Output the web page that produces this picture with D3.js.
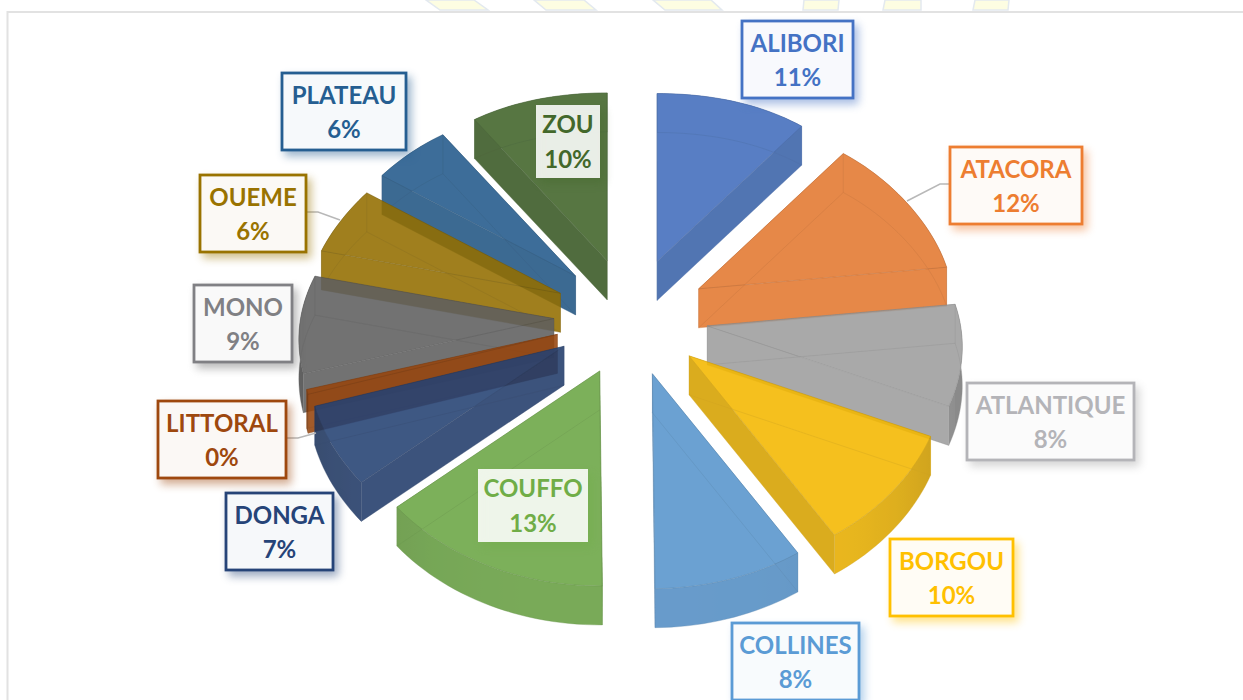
<!DOCTYPE html>
<html>
<head>
<meta charset="utf-8">
<script src="https://cdn.jsdelivr.net/npm/d3@7"></script>
<style>
    html, body { margin: 0; padding: 0; background: #fff; overflow: hidden; }
    svg { display: block; }
    text { font-family: Lato, "Open Sans", sans-serif; font-weight: 700; }
</style>
</head>
<body>
<div id="chart"></div>
<script>
// Chart data
const regions = ["ALIBORI", "ATACORA", "ATLANTIQUE", "BORGOU", "COLLINES", "COUFFO",
    "DONGA", "LITTORAL", "MONO", "OUEME", "PLATEAU", "ZOU"];
const shares = [11, 12.15, 8.5, 9.55, 8.65, 13.61, 6.59, 0.4, 8.25, 5.75, 5.55, 10];
const percentLabels = ["11%", "12%", "8%", "10%", "8%", "13%", "7%", "0%", "9%", "6%", "6%", "10%"];

const sliceColors = ["#4472C4", "#ED7D31", "#A5A5A5", "#FFC000", "#5B9BD5", "#70AD47",
    "#264478", "#9E480E", "#636363", "#997300", "#255E91", "#43682B"];
const textColors = ["#4472C4", "#ED7D31", "#B4B4B8", "#FFC000", "#5B9BD5", "#70AD47",
    "#264478", "#9E480E", "#808084", "#997300", "#255E91", "#43682B"];

// Label boxes: left, top, right, bottom
const labelBoxes = [
    [742, 21, 853, 98], [950, 147, 1082, 224], [967, 383, 1134, 460], [890, 539, 1013, 616],
    [732, 623, 859, 700], [478, 469, 588, 542], [226, 493, 333, 570], [158, 401, 286, 478],
    [194, 285, 292, 362], [200, 175, 306, 252], [282, 73, 406, 150], [536, 105, 600, 178]
];
// Labels sitting on their slice have no border
const plainLabels = ["COUFFO", "ZOU"];

const leaderLines = [
    [[950, 184], [940, 184], [907, 201]],
    [[306, 212], [318, 212], [340, 220]],
    [[286, 438], [298, 438], [316, 433]]
];

// Pale stripes of the page behind the frame
const stripes = [
    [[426, 0], [474, 0], [488, 10], [440, 10]],
    [[534, 0], [584, 0], [596, 10], [546, 10]],
    [[653, 0], [711, 0], [722, 10], [665, 10]],
    [[804, 0], [839, 0], [838, 10], [803, 10]],
    [[885, 0], [921, 0], [921, 10], [883, 10]],
    [[975, 0], [1009, 0], [1008, 10], [973, 10]]
];

const width = 1243, height = 700;

// Pie geometry: centre, how far slices are pulled out, radii and perspective
const cx = 631, cy = 317;
const explodeX = 77, explodeY = 59;
const radiusX = 248, radiusY = 188.6;
const perspective = 0.1228;
const depth = 39;

const svg = d3.select("#chart").append("svg")
    .attr("width", width)
    .attr("height", height);

const defs = svg.append("defs");
const polyLine = d3.line().x(d => d[0]).y(d => d[1]);

// Background stripes and frame
svg.selectAll(".stripe")
    .data(stripes)
    .enter().append("path")
    .attr("class", "stripe")
    .attr("d", d => polyLine(d) + "Z")
    .style("fill", "#fdfde2")
    .style("stroke", "#e3e9ef")
    .style("stroke-width", 1.5);

svg.append("path")
    .attr("d", "M7.5,700V12H1243")
    .style("fill", "none")
    .style("stroke", "#e2e2e2")
    .style("stroke-width", 2);

// Project a point of the pie plane, relative to the slice apex
function rimPoint(angle, apex) {
    const u = Math.sin(angle), v = Math.cos(angle);
    const w = 1 + perspective * v;
    // the rim bulges a little at the sides and upper corners
    const bulgeX = 1 + 0.022 * Math.pow(u, 6);
    const bulgeY = v > 0 ? 1 + 0.02 * Math.pow(Math.sin(2 * angle), 2) : 1;
    return [apex[0] + radiusX * bulgeX * u / w, apex[1] - radiusY * bulgeY * v / w];
}

const slices = d3.pie().sort(null).value(d => d)(shares).map((d, i) => {
    const mid = (d.startAngle + d.endAngle) / 2;
    const apex = [cx + explodeX * Math.sin(mid), cy - explodeY * Math.cos(mid)];
    const steps = Math.max(2, Math.ceil((d.endAngle - d.startAngle) / 0.03));
    const angles = d3.range(steps + 1).map(k => d.startAngle + (d.endAngle - d.startAngle) * k / steps);
    const rim = angles.map(a => rimPoint(a, apex));
    return { id: i, name: regions[i], color: sliceColors[i], mid, apex, rim, angles };
});

const down = p => [p[0], p[1] + depth];

// Flat walls are shaded by the way they face, the arc wall darkens towards the sides
const radialShade = a => 0.5 * Math.max(0, Math.abs(Math.cos(a)) - 0.4) / 0.6;
const arcShade = a => 0.12 + 0.6 * Math.pow(Math.sin(a), 4);

// Back slices first so the front ones overlap them
slices.slice().sort((a, b) => Math.cos(b.mid) - Math.cos(a.mid)).forEach(s => {
    const g = svg.append("g").style("opacity", 0.88);
    const base = d3.color(s.color).darker(0.12);
    const first = s.rim[0];
    const last = s.rim[s.rim.length - 1];
    const edge = d3.color(s.color).darker(0.7).formatHex();

    const topFace = [s.apex, ...s.rim];
    const bottomFace = topFace.map(down);
    const startAngle = s.angles[0];
    const endAngle = s.angles[s.angles.length - 1];

    const wall = (face, fill) => {
        g.append("path")
            .attr("d", polyLine(face) + "Z")
            .style("fill", fill)
            .style("stroke", "none");
    };

    // Shading of the arc wall runs along the rim
    const gradId = "arc-" + s.id;
    const grad = defs.append("linearGradient")
        .attr("id", gradId)
        .attr("gradientUnits", "userSpaceOnUse")
        .attr("x1", first[0]).attr("x2", last[0])
        .attr("y1", 0).attr("y2", 0);
    const span = (last[0] - first[0]) || 1;
    s.rim.forEach((p, k) => {
        grad.append("stop")
            .attr("offset", Math.min(1, Math.max(0, (p[0] - first[0]) / span)))
            .attr("stop-color", base.darker(arcShade(s.angles[k])).formatHex());
    });

    const startWall = [s.apex, first, down(first), down(s.apex)];
    const endWall = [s.apex, last, down(last), down(s.apex)];
    const arcWall = [...s.rim, ...s.rim.slice().reverse().map(down)];
    const rightSide = s.mid < Math.PI;

    // Back facing radial wall, arc wall, then the radial wall that faces us
    wall(rightSide ? startWall : endWall,
        base.darker(radialShade(rightSide ? startAngle : endAngle)).formatHex());
    wall(arcWall, "url(#" + gradId + ")");
    wall(rightSide ? endWall : startWall,
        base.darker(radialShade(rightSide ? endAngle : startAngle)).formatHex());

    g.append("path")
        .attr("d", polyLine(topFace) + "Z")
        .style("fill", base.formatHex())
        .style("stroke", edge)
        .style("stroke-opacity", 0.6)
        .style("stroke-width", 1);

    // Hidden edges seen through the slice
    g.append("path")
        .attr("d", polyLine(bottomFace) + "Z")
        .style("fill", "none")
        .style("stroke", edge)
        .style("stroke-opacity", 0.35)
        .style("stroke-width", 1);

    [s.apex, first, last].forEach(p => {
        g.append("path")
            .attr("d", polyLine([p, down(p)]))
            .style("stroke", edge)
            .style("stroke-opacity", 0.35)
            .style("stroke-width", 1);
    });
});

// Leader lines
svg.selectAll(".leader")
    .data(leaderLines)
    .enter().append("path")
    .attr("class", "leader")
    .attr("d", d => polyLine(d))
    .style("fill", "none")
    .style("stroke", "#b8b8b8")
    .style("stroke-width", 1.5);

// Data labels
const labels = svg.selectAll(".label")
    .data(regions)
    .enter().append("g")
    .attr("class", "label")
    .attr("transform", (d, i) => "translate(" + labelBoxes[i][0] + "," + labelBoxes[i][1] + ")");

labels.append("rect")
    .attr("width", (d, i) => labelBoxes[i][2] - labelBoxes[i][0])
    .attr("height", (d, i) => labelBoxes[i][3] - labelBoxes[i][1])
    .style("fill", (d, i) => plainLabels.includes(d)
        ? "rgba(255,255,255,0.88)"
        : d3.interpolateRgb("#fff", sliceColors[i])(0.04))
    .style("stroke", (d, i) => plainLabels.includes(d) ? "none" : textColors[i])
    .style("stroke-width", 2.8)
    .style("filter", (d, i) => {
        const c = d3.color(sliceColors[i]);
        c.opacity = 0.45;
        return "drop-shadow(4px 5px 4px " + c.formatRgb() + ")";
    });

labels.append("text")
    .attr("x", (d, i) => (labelBoxes[i][2] - labelBoxes[i][0]) / 2)
    .attr("y", (d, i) => plainLabels.includes(d) ? 28 : 31)
    .attr("text-anchor", "middle")
    .style("font-size", "24px")
    .style("fill", (d, i) => textColors[i])
    .text(d => d);

labels.append("text")
    .attr("x", (d, i) => (labelBoxes[i][2] - labelBoxes[i][0]) / 2)
    .attr("y", (d, i) => plainLabels.includes(d) ? 63 : 65)
    .attr("text-anchor", "middle")
    .style("font-size", "24px")
    .style("fill", (d, i) => textColors[i])
    .text((d, i) => percentLabels[i]);
</script>
</body>
</html>
